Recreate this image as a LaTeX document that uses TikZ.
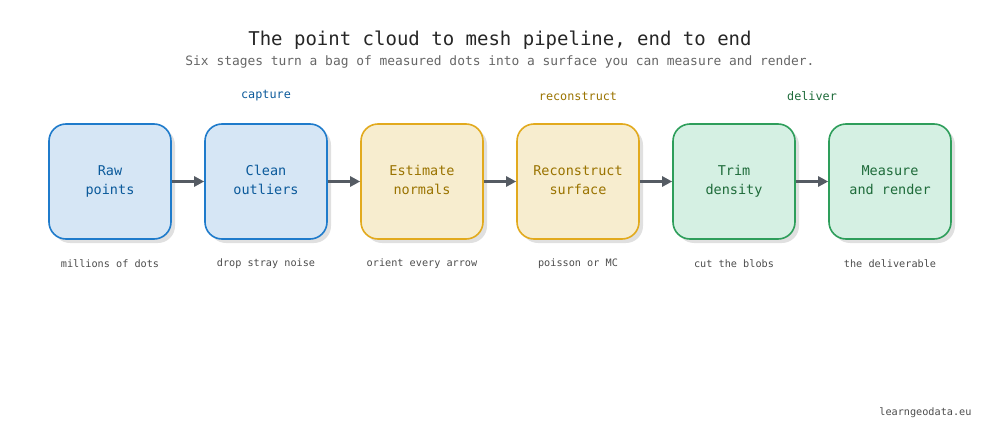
\documentclass[tikz,border=0pt]{standalone}
\usepackage{fontspec}
\setmonofont{DejaVu Sans Mono}
\usetikzlibrary{positioning,arrows.meta}
\definecolor{bluefill}{HTML}{D6E6F5}\definecolor{blueline}{HTML}{1F7BCB}\definecolor{bluetext}{HTML}{0B5A9B}
\definecolor{yelfill}{HTML}{F7EDCF}\definecolor{yelline}{HTML}{E2AA1E}\definecolor{yeltext}{HTML}{9A7300}
\definecolor{grnfill}{HTML}{D5F0E3}\definecolor{grnline}{HTML}{2E9E5B}\definecolor{grntext}{HTML}{1E6B3A}
\definecolor{arrowgray}{HTML}{555B63}
\tikzset{
  stage/.style={rounded corners=17pt, minimum width=122pt, minimum height=115pt, line width=1.6pt,
    align=center, font=\ttfamily\fontsize{13.5}{16.5}\selectfont,
    preaction={fill=black!12, transform canvas={xshift=4pt,yshift=-4pt}}},
  capture/.style={stage, fill=bluefill, draw=blueline, text=bluetext},
  rebuild/.style={stage, fill=yelfill, draw=yelline, text=yeltext},
  deliver/.style={stage, fill=grnfill, draw=grnline, text=grntext},
  caption/.style={font=\ttfamily\fontsize{10.2}{12}\selectfont, text=black!70},
  group/.style={font=\ttfamily\fontsize{11.8}{14}\selectfont},
  flow/.style={-{Triangle[length=10pt,width=10pt]}, line width=2.4pt, draw=arrowgray}
}
\begin{document}
\begin{tikzpicture}[x=1pt,y=-1pt]
\useasboundingbox (0,0) rectangle (1000,444);
\node[font=\ttfamily\fontsize{19}{22}\selectfont, text=black!85] (title) at (500,40) {The point cloud to mesh pipeline, end to end};
\node[font=\ttfamily\fontsize{12.9}{16}\selectfont, text=black!60] (sub) at (500,62) {Six stages turn a bag of measured dots into a surface you can measure and render.};
% stages
\node[capture] (raw) at (110,181.5) {\raisebox{-2pt}{\shortstack{Raw\strut\\points\strut}}};
\node[capture] (clean) at (266,181.5) {\raisebox{-2pt}{\shortstack{Clean\strut\\outliers\strut}}};
\node[rebuild] (normals) at (422,181.5) {\raisebox{-2pt}{\shortstack{Estimate\strut\\normals\strut}}};
\node[rebuild] (surface) at (578,181.5) {\raisebox{-2pt}{\shortstack{Reconstruct\strut\\surface\strut}}};
\node[deliver] (trim) at (734,181.5) {\raisebox{-2pt}{\shortstack{Trim\strut\\density\strut}}};
\node[deliver] (render) at (890,181.5) {\raisebox{-2pt}{\shortstack{Measure\strut\\and render\strut}}};
% groups
\node[group, text=bluetext] (g1) at (266,96) {capture};
\node[group, text=yeltext] (g2) at (578,96) {reconstruct};
\node[group, text=grntext] (g3) at (812,96) {deliver};
% captions
\node[caption] (c1) at (110,264) {millions of dots};
\node[caption] (c2) at (266,264) {drop stray noise};
\node[caption] (c3) at (422,264) {orient every arrow};
\node[caption] (c4) at (578,264) {poisson or MC};
\node[caption] (c5) at (734,264) {cut the blobs};
\node[caption] (c6) at (890,264) {the deliverable};
\draw[flow] (raw) -- (clean);
\draw[flow] (clean) -- (normals);
\draw[flow] (normals) -- (surface);
\draw[flow] (surface) -- (trim);
\draw[flow] (trim) -- (render);
\node[caption, anchor=east] (site) at (975,413) {learngeodata.eu};
\end{tikzpicture}
\end{document}
